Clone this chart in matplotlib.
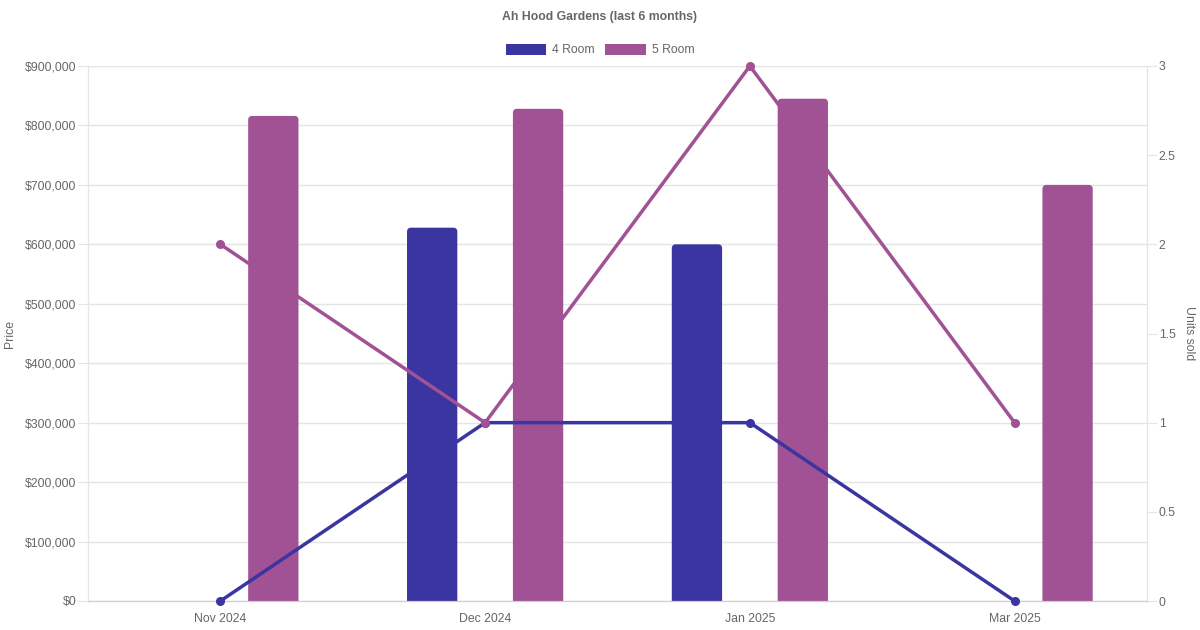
import numpy as np
import matplotlib
matplotlib.use("Agg")
import matplotlib.pyplot as plt
from matplotlib.patches import Patch, FancyBboxPatch
from matplotlib.ticker import FuncFormatter, MultipleLocator

plt.rcParams['font.family'] = ['Liberation Sans', 'DejaVu Sans']

# data
months = ['Nov 2024', 'Dec 2024', 'Jan 2025', 'Mar 2025']
price_4room = [np.nan, 628000, 600000, np.nan]
price_5room = [816000, 828000, 845000, 700000]
units_4room = [0, 1, 1, 0]
units_5room = [2, 1, 3, 1]

c4 = '#3a35a0'
c5 = '#a05294'
txt = '#666666'
grid = '#e5e5e5'
fs = 8.8  # ~12px at 100 dpi

fig = plt.figure(figsize=(12, 6.3), dpi=100)
ax = fig.add_axes([88 / 1200, 1 - 601 / 630, (1147 - 88) / 1200, (601 - 66) / 630])
ax2 = ax.twinx()

x = np.arange(len(months))
ax.set_xlim(-0.5, 3.5)
ax.set_ylim(0, 900000)
ax2.set_ylim(0, 3)

# bars with slightly rounded tops (Chart.js style)
bars4 = ax.bar(x - 0.2, price_4room, width=0.19, color=c4, zorder=2)
bars5 = ax.bar(x + 0.2, price_5room, width=0.19, color=c5, zorder=2)
px_x = 1059 / 4.0          # pixels per x unit
px_y = 535 / 900000.0      # pixels per y unit
rad = 4 / px_x
asp = px_x / px_y
for bars in (bars4, bars5):
    for b in bars:
        h = b.get_height()
        if np.isnan(h):
            continue
        b.set_visible(False)
        ext = 10 / px_y
        fp = FancyBboxPatch((b.get_x(), -ext), b.get_width(), h + ext,
                            boxstyle='round,pad=0,rounding_size=%f' % rad,
                            mutation_aspect=asp, facecolor=b.get_facecolor(),
                            edgecolor='none', zorder=2)
        ax.add_patch(fp)

ax2.plot(x, units_4room, color=c4, lw=2.5, marker='o', ms=5.5, clip_on=False, zorder=3)
ax2.plot(x, units_5room, color=c5, lw=2.5, marker='o', ms=5.5, clip_on=False, zorder=3)

ax.yaxis.set_major_locator(MultipleLocator(100000))
ax.yaxis.set_major_formatter(FuncFormatter(lambda v, p: '${:,.0f}'.format(v)))
ax2.yaxis.set_major_locator(MultipleLocator(0.5))
ax2.yaxis.set_major_formatter(FuncFormatter(lambda v, p: '{:g}'.format(v)))
ax.set_xticks(x)
ax.set_xticklabels(months)

ax.grid(axis='y', color=grid, lw=1, zorder=0)
ax.set_axisbelow(True)

ax.tick_params(axis='y', colors=grid, labelcolor=txt, labelsize=fs, length=7, pad=1.5)
ax.tick_params(axis='x', length=0, labelcolor=txt, labelsize=fs, pad=9)
ax2.tick_params(axis='y', colors=grid, labelcolor=txt, labelsize=fs, length=7, pad=1.5)

for a in (ax, ax2):
    a.spines['top'].set_visible(False)
    a.spines['left'].set_color(grid)
    a.spines['right'].set_color(grid)
    a.spines['bottom'].set_color('#cfcfcf')

ax.set_ylabel('Price', color=txt, fontsize=fs, va='center')
ax.yaxis.set_label_coords((10 - 88) / 1059, 0.5)
ax2.set_ylabel('Units sold', color=txt, fontsize=fs, rotation=270, va='center')
ax2.yaxis.set_label_coords((1189 - 88) / 1059, 0.5)

fig.text(0.5, 1 - 17 / 630, 'Ah Hood Gardens (last 6 months)', ha='center', va='center',
         fontsize=fs, fontweight='bold', color=txt)

handles = [Patch(facecolor=c4, label='4 Room'), Patch(facecolor=c5, label='5 Room')]
fig.legend(handles=handles, loc='center', bbox_to_anchor=(0.5, 1 - 50 / 630), ncol=2,
           frameon=False, fontsize=fs, handlelength=3.3, handleheight=1.0,
           handletextpad=0.5, columnspacing=0.85, labelcolor=txt)

fig.savefig('out.png', dpi=100)
